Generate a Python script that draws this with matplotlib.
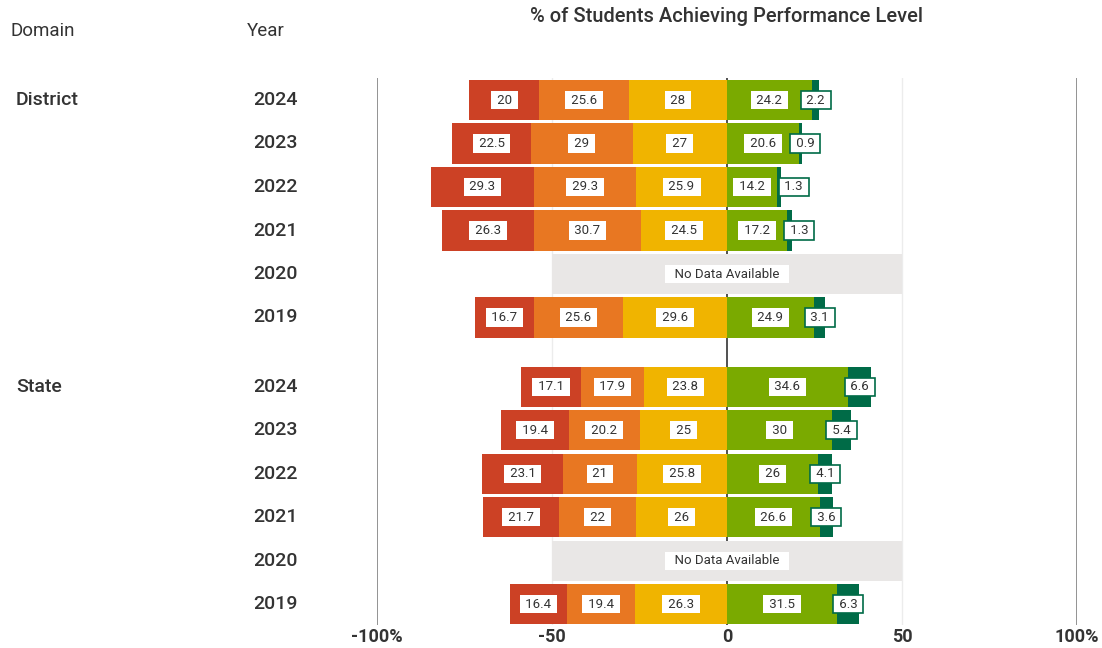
import numpy as np
import matplotlib.pyplot as plt

plt.rcParams['font.family'] = ['Roboto', 'DejaVu Sans']

# ---- data ----
domains = ['District', 'State']
years = ['2024', '2023', '2022', '2021', '2020', '2019']

# level 1 (lowest) .. level 5 (highest); nan = no data
lvl1 = [20, 22.5, 29.3, 26.3, np.nan, 16.7,
        17.1, 19.4, 23.1, 21.7, np.nan, 16.4]
lvl2 = [25.6, 29, 29.3, 30.7, np.nan, 25.6,
        17.9, 20.2, 21, 22, np.nan, 19.4]
lvl3 = [28, 27, 25.9, 24.5, np.nan, 29.6,
        23.8, 25, 25.8, 26, np.nan, 26.3]
lvl4 = [24.2, 20.6, 14.2, 17.2, np.nan, 24.9,
        34.6, 30, 26, 26.6, np.nan, 31.5]
lvl5 = [2.2, 0.9, 1.3, 1.3, np.nan, 3.1,
        6.6, 5.4, 4.1, 3.6, np.nan, 6.3]

colors = ['#CC4125', '#E87722', '#F0B400', '#7AAA00', '#006B47']
txt = '#333333'

W, H = 1102, 648
fig = plt.figure(figsize=(W / 100, H / 100), dpi=100)

# axes: x -100 at px 377, 100 at px 1077 ; y from px 78 to 625
ax = fig.add_axes([377 / W, 1 - 625 / H, 700 / W, (625 - 78) / H])
unit = 43.5          # px per row
y0px = 100           # px of first row
ax.set_xlim(-100, 100)
ax.set_ylim((625 - y0px) / unit, (78 - y0px) / unit)

# row positions: district 0..5, state after a gap
ypos = [i for i in range(6)] + [6.59 + i for i in range(6)]
bh = 0.92

ax.axvline(-100, color='#8a8a8a', lw=1.3, zorder=0)
ax.axvline(100, color='#8a8a8a', lw=1.3, zorder=0)
ax.axvline(-50, color='#ececec', lw=1, zorder=0)
ax.axvline(50, color='#ececec', lw=1, zorder=0)
ax.axvline(0, color='#333333', lw=1.2, zorder=0.5)

box = dict(boxstyle='square,pad=0.2', fc='white', ec='none')
box_dk = dict(boxstyle='square,pad=0.2', fc='white', ec='#006B47', lw=1.2)
fs = 9.5

def lab(x, y, v, bb, z=5):
    return ax.text(x, y, f' {v:g} ', ha='center', va='center',
                   fontsize=fs, color=txt, bbox=bb, zorder=z)

pairs = []
for i, y in enumerate(ypos):
    if np.isnan(lvl1[i]):
        ax.barh(y, 100, left=-50, height=bh, color='#E9E7E6', zorder=1)
        ax.text(0, y, '  No Data Available  ', ha='center', va='center',
                fontsize=fs, color=txt, bbox=box, zorder=5)
        continue
    # negative side: yellow next to zero, then orange, then red
    neg = [lvl3[i], lvl2[i], lvl1[i]]
    negc = [colors[2], colors[1], colors[0]]
    start = 0
    for v, c in zip(neg, negc):
        ax.barh(y, -v, left=start, height=bh, color=c, zorder=2)
        lab(start - v / 2, y, v, box)
        start -= v
    # positive side
    ax.barh(y, lvl4[i], left=0, height=bh, color=colors[3], zorder=2)
    t4 = lab(lvl4[i] / 2, y, lvl4[i], box)
    ax.barh(y, lvl5[i], left=lvl4[i], height=bh, color=colors[4], zorder=2)
    t5 = lab(lvl4[i] + lvl5[i] / 2, y, lvl5[i], box_dk, 6)
    pairs.append((t4, t5))

# push the small top-level labels right when they collide with the green one
fig.canvas.draw()
px_per_unit = 700 / 200
for t4, t5 in pairs:
    r4 = t4.get_bbox_patch().get_window_extent().x1
    l5 = t5.get_bbox_patch().get_window_extent().x0
    gap = 8
    if l5 < r4 + gap:
        x, y = t5.get_position()
        t5.set_position((x + (r4 + gap - l5) / px_per_unit, y))

for s in ax.spines.values():
    s.set_visible(False)
ax.set_yticks([])
ax.set_xticks([-100, -50, 0, 50, 100])
ax.set_xticklabels(['-100%', '-50', '0', '50', '100%'],
                   fontsize=13, fontweight='bold', color=txt)
ax.tick_params(axis='x', length=0, pad=2)

# headers and row labels
fig.text(10 / W, 1 - 31 / H, 'Domain', fontsize=13.5, color=txt, va='center')
fig.text(247 / W, 1 - 31 / H, 'Year', fontsize=13.5, color=txt, va='center')
fig.text(727 / W, 1 - 17 / H, '% of Students Achieving Performance Level',
         fontsize=14.5, color=txt, ha='center', va='center', fontweight='medium')

for i, y in enumerate(ypos):
    ypx = y0px + y * unit
    fig.text(253 / W, 1 - ypx / H, years[i % 6], fontsize=14,
             color=txt, va='center', fontweight='medium')
fig.text(16 / W, 1 - (y0px) / H, domains[0], fontsize=14, color=txt,
         va='center', fontweight='medium')
fig.text(16 / W, 1 - (y0px + ypos[6] * unit) / H, domains[1], fontsize=14,
         color=txt, va='center', fontweight='medium')

fig.savefig('out.png', dpi=100)
